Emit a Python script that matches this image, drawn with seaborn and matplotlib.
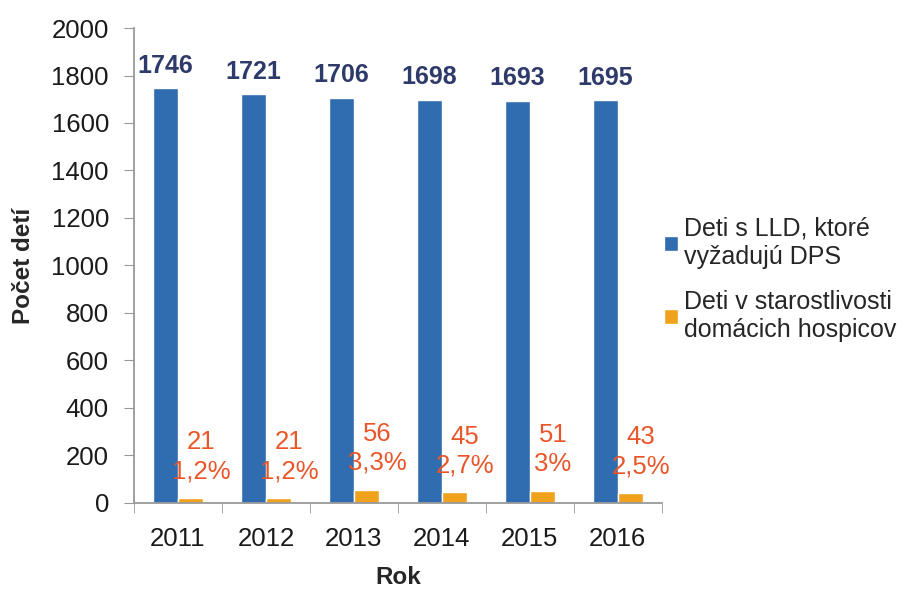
import matplotlib
matplotlib.use("Agg")
import matplotlib.pyplot as plt
import seaborn as sns
import pandas as pd
import numpy as np

years = ["2011", "2012", "2013", "2014", "2015", "2016"]
series_names = ["Deti s LLD, ktoré\nvyžadujú DPS", "Deti v starostlivosti\ndomácich hospicov"]
lld = [1746, 1721, 1706, 1698, 1693, 1695]
hospic = [21, 21, 56, 45, 51, 43]
hospic_pct = ["1,2%", "1,2%", "3,3%", "2,7%", "3%", "2,5%"]

df = pd.DataFrame({
    "Rok": years * 2,
    "value": lld + hospic,
    "series": [series_names[0]] * len(years) + [series_names[1]] * len(years),
})

sns.set_style("white")
plt.rcParams['font.family'] = ['Liberation Sans', 'DejaVu Sans']

fig = plt.figure(figsize=(9.14, 5.91), dpi=100)
ax = fig.add_axes([0.1466, 0.149, 0.724 - 0.1466, 0.9526 - 0.149])

blue = "#2F6DB0"
orange = "#F0A21C"
sns.barplot(data=df, x="Rok", y="value", hue="series", palette=[blue, orange],
            width=0.57, gap=0, ax=ax, saturation=1, legend=True)

ax.set_xlim(-0.5, 5.5)
ax.set_ylim(0, 2000)
ax.set_yticks(np.arange(0, 2001, 200))
ax.tick_params(axis='y', labelsize=18.5, length=7, color="#999999", direction='out', left=True, pad=11,
               labelcolor="#1a1a1a")
ax.tick_params(axis='x', which='major', labelsize=18.5, length=0, pad=17, labelcolor="#1a1a1a")
ax.set_xticks(np.arange(-0.5, 5.6, 1.0), minor=True)
ax.tick_params(axis='x', which='minor', length=7, color="#999999", direction='out', bottom=True)
for s in ["top", "right"]:
    ax.spines[s].set_visible(False)
for s in ["left", "bottom"]:
    ax.spines[s].set_color("#999999")
    ax.spines[s].set_linewidth(1.3)

ax.set_ylabel("Počet detí", fontsize=17.5, fontweight='bold', labelpad=12)
ax.set_xlabel("Rok", fontsize=17.5, fontweight='bold', labelpad=11)

cont_blue, cont_orange = ax.containers[0], ax.containers[1]
for bar, v in zip(cont_blue, lld):
    ax.text(bar.get_x() + bar.get_width() / 2, v + 45, str(v), ha='center', va='bottom',
            fontsize=18, fontweight='bold', color="#2E3A6A")
for bar, v, p in zip(cont_orange, hospic, hospic_pct):
    ax.text(bar.get_x() + bar.get_width() / 2 + 0.12, v + 62, f"{v}\n{p}", ha='center', va='bottom',
            fontsize=18.5, color="#E8562A", linespacing=1.25)

leg = ax.legend(loc='upper left', bbox_to_anchor=(0.962, 0.65), frameon=False, fontsize=18,
                handlelength=0.55, handleheight=0.55, handletextpad=0.25, labelspacing=0.85)

fig.savefig("out.png", dpi=100)
